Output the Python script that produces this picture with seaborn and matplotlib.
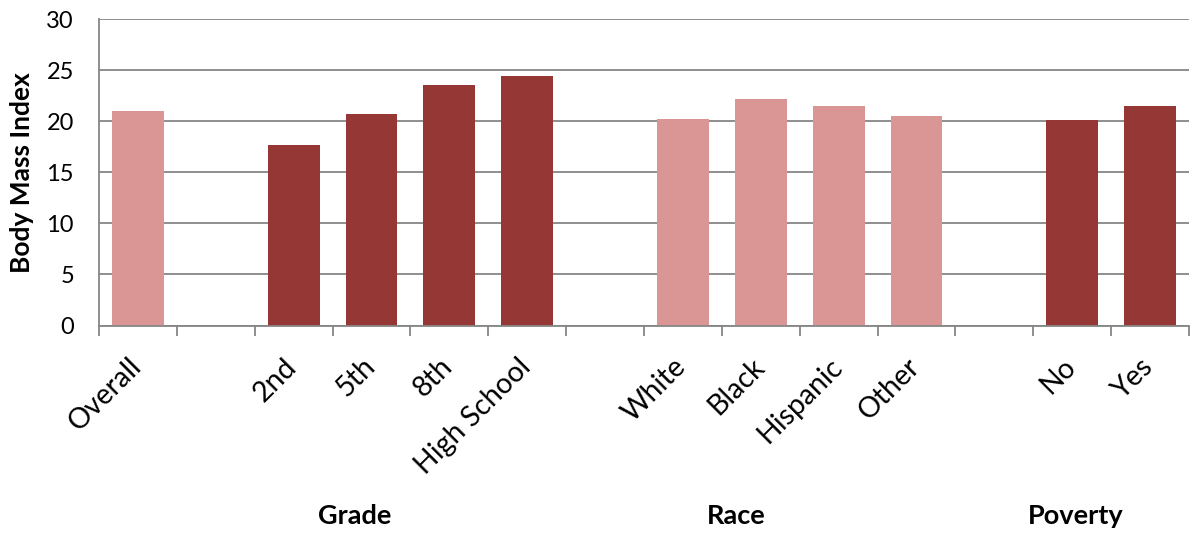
import matplotlib
matplotlib.use("Agg")
import matplotlib.pyplot as plt
import matplotlib.transforms as mtransforms
import seaborn as sns
import pandas as pd
import numpy as np

# ---- data ----
categories = ["Overall", "2nd", "5th", "8th", "High School",
              "White", "Black", "Hispanic", "Other", "No", "Yes"]
values = [21.0, 17.7, 20.7, 23.5, 24.4, 20.2, 22.2, 21.5, 20.5, 20.1, 21.5]
groups = ["Overall", "Grade", "Grade", "Grade", "Grade",
          "Race", "Race", "Race", "Race", "Poverty", "Poverty"]
slot_order = ["Overall", "_gap1", "2nd", "5th", "8th", "High School", "_gap2",
              "White", "Black", "Hispanic", "Other", "_gap3", "No", "Yes"]
group_titles = ["Grade", "Race", "Poverty"]
y_ticks = [0, 5, 10, 15, 20, 25, 30]

LIGHT = "#D99694"
DARK = "#953735"
palette = {"Overall": LIGHT, "Grade": DARK, "Race": LIGHT, "Poverty": DARK}

df = pd.DataFrame({"category": categories, "bmi": values, "group": groups})

sns.set_theme(style="white")
plt.rcParams["font.family"] = ["Lato", "DejaVu Sans"]

W, H = 1193, 533
fig = plt.figure(figsize=(W / 100, H / 100), dpi=100)
ax = fig.add_axes([99 / W, 1 - 325.5 / H, (1189 - 99) / W, (325.5 - 19) / H])

sns.barplot(data=df, x="category", y="bmi", hue="group", order=slot_order,
            palette=palette, dodge=False, width=0.667, legend=False,
            saturation=1, linewidth=0, edgecolor="none", ax=ax)

n = len(slot_order)
ax.set_xlim(-0.5, n - 0.5)
ax.set_ylim(0, 30)
ax.set_yticks(y_ticks)
ax.set_yticklabels([str(t) for t in y_ticks], fontsize=17, color="black")
ax.tick_params(axis="y", length=0, pad=18)

GRAY = "#868686"
ax.yaxis.grid(True, color=GRAY, linewidth=1.3)
ax.set_axisbelow(True)
for s in ["top", "right"]:
    ax.spines[s].set_visible(False)
for s in ["left", "bottom"]:
    ax.spines[s].set_visible(True)
    ax.spines[s].set_color(GRAY)
    ax.spines[s].set_linewidth(1.3)

# major ticks at slot boundaries, labels at slot centers (minor)
ax.set_xticks(np.arange(-0.5, n, 1.0))
ax.set_xticklabels([])
ax.tick_params(axis="x", which="major", length=7, width=1.3, color=GRAY,
               direction="out", bottom=True)
ax.set_xticks(np.arange(n), minor=True)
labels = ["" if c.startswith("_gap") else c for c in slot_order]
ax.set_xticklabels(labels, minor=True, rotation=45, ha="right", va="top",
                   rotation_mode="anchor", fontsize=20.5, color="black")
ax.tick_params(axis="x", which="minor", length=0, pad=20, bottom=True)
shift = mtransforms.ScaledTranslation(-10 / 100, 0, fig.dpi_scale_trans)
for lab in ax.get_xticklabels(minor=True):
    lab.set_transform(lab.get_transform() + shift)
ax.set_xlabel("")

ax.set_ylabel("Body Mass Index", fontsize=19, fontweight="bold", color="black")
ax.yaxis.set_label_coords((34 - 99) / (1189 - 99), 0.5)

# group titles below the category labels
trans = mtransforms.blended_transform_factory(ax.transData, fig.transFigure)
title_x = [2.79, 7.68, 12.04]
for t, x in zip(group_titles, title_x):
    ax.text(x, 1 - 516 / H, t, transform=trans, ha="center", va="center",
            fontsize=19.5, fontweight="bold", color="black")

fig.savefig("out.png", dpi=100, facecolor="white")
